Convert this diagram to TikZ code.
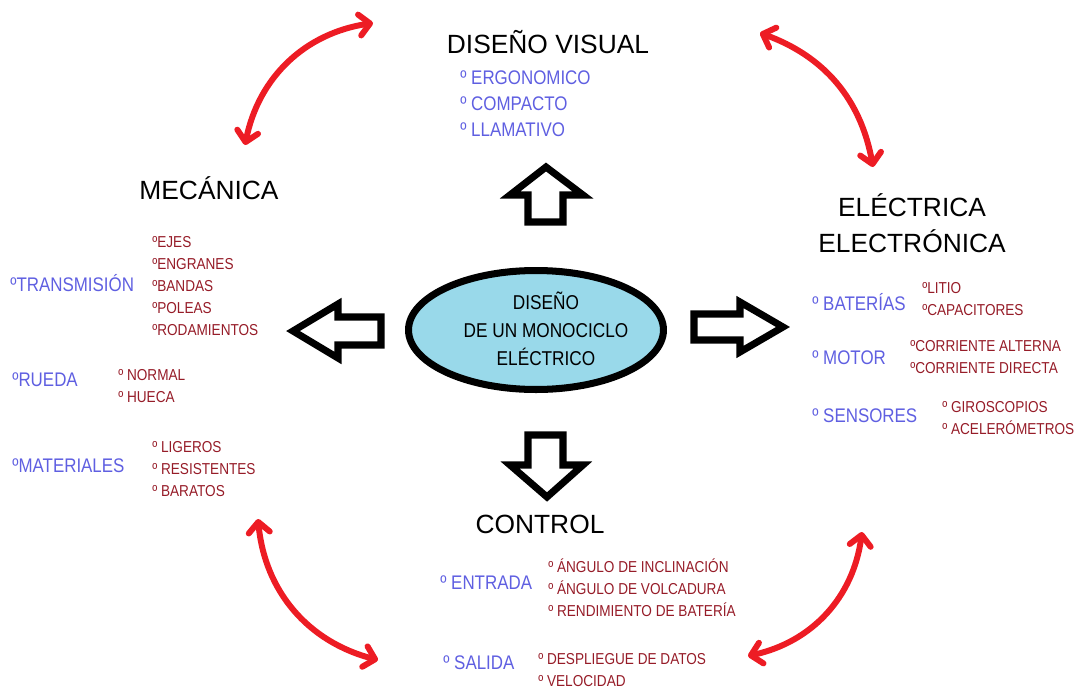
\documentclass[tikz,border=0pt]{standalone}
\usepackage{fontspec}
\setmainfont{Liberation Sans}
\newfontfamily\estrecha[FakeStretch=0.86]{Liberation Sans}
\usetikzlibrary{shapes.geometric,arrows.meta}
\definecolor{azul}{RGB}{95,95,225}
\definecolor{guinda}{RGB}{150,28,40}
\definecolor{rojo}{RGB}{237,28,36}
\definecolor{celeste}{RGB}{153,217,234}

\begin{document}
\begin{tikzpicture}[x=0.02cm,y=-0.02cm,
  titulo/.style={inner sep=0pt, align=center, font=\fontsize{15}{20.4}\selectfont},
  tema/.style={anchor=west, inner sep=0pt, align=left, text=azul, font=\estrecha\fontsize{11.2}{14.7}\selectfont},
  lista/.style={anchor=west, inner sep=0pt, align=left, text=guinda, font=\estrecha\fontsize{9}{12.6}\selectfont},
  bloque/.style={draw, line width=4pt, line join=miter, fill=white},
  doble/.style={draw=rojo, line width=3.4pt, line cap=round,
    arrows={Straight Barb[round,length=6pt,width=12pt]-Straight Barb[round,length=6pt,width=12pt]}}]
\useasboundingbox (0,0) rectangle (1080,690);

% centro
\node[draw, ellipse, line width=4pt, fill=celeste, minimum width=5.1cm, minimum height=2.38cm] (C0) at (536,330) {};
\node[align=center, inner sep=0pt, font=\estrecha\fontsize{11.4}{15.9}\selectfont] (C0txt) at (546,329)
  {DISEÑO\\DE UN MONOCICLO\\ELÉCTRICO};

% flechas de bloque
\draw[bloque] (293,331) -- (338,304) -- (338,317) -- (381,317) -- (381,345) -- (338,345) -- (338,358) -- cycle;
\draw[bloque] (783,327) -- (740,302) -- (740,314) -- (694,314) -- (694,340) -- (740,340) -- (740,352) -- cycle;
\draw[bloque] (546,167) -- (510,195) -- (528,195) -- (528,222) -- (563,222) -- (563,195) -- (583,195) -- cycle;
\draw[bloque] (547,497) -- (510,465) -- (528,465) -- (528,435) -- (563,435) -- (563,465) -- (583,465) -- cycle;

% diseno visual
\node[titulo] (DV) at (548,42) {DISEÑO VISUAL};
\node[tema] (DV1) at (460,104) {º ERGONOMICO\\º COMPACTO\\º LLAMATIVO};

% mecanica
\node[titulo] (MEC) at (209,188) {MECÁNICA};
\node[tema] (TRA) at (10,283) {ºTRANSMISIÓN};
\node[lista] (TRA1) at (152,286) {ºEJES\\ºENGRANES\\ºBANDAS\\ºPOLEAS\\ºRODAMIENTOS};
\node[tema] (RUE) at (12,380) {ºRUEDA};
\node[lista] (RUE1) at (118,386) {º NORMAL\\º HUECA};
\node[tema] (MAT) at (12,466) {ºMATERIALES};
\node[lista] (MAT1) at (152,469) {º LIGEROS\\º RESISTENTES\\º BARATOS};

% electrica electronica
\node[titulo] (ELE) at (912,223) {ELÉCTRICA\\ELECTRÓNICA};
\node[tema] (BAT) at (812,302) {º BATERÍAS};
\node[lista] (BAT1) at (922,299) {ºLITIO\\ºCAPACITORES};
\node[tema] (MOT) at (812,358) {º MOTOR};
\node[lista] (MOT1) at (910,357) {ºCORRIENTE ALTERNA\\ºCORRIENTE DIRECTA};
\node[tema] (SEN) at (812,416) {º SENSORES};
\node[lista] (SEN1) at (942,418) {º GIROSCOPIOS\\º ACELERÓMETROS};

% control
\node[titulo] (CTRL) at (540,524) {CONTROL};
\node[tema] (ENT) at (440,583) {º ENTRADA};
\node[lista] (ENT1) at (548,588) {º ÁNGULO DE INCLINACIÓN\\º ÁNGULO DE VOLCADURA\\º RENDIMIENTO DE BATERÍA};
\node[tema] (SAL) at (443,663) {º SALIDA};
\node[lista] (SAL1) at (538,670) {º DESPLIEGUE DE DATOS\\º VELOCIDAD};

% flechas rojas
\coordinate (r1a) at (245,145);
\coordinate (r1b) at (373,23);
\coordinate (r2a) at (760,33);
\coordinate (r2b) at (873,167);
\coordinate (r3a) at (258,519);
\coordinate (r3b) at (378,660);
\coordinate (r4a) at (748,656);
\coordinate (r4b) at (862,532);
\draw[doble] (r1a) to[bend left=35] (r1b);
\draw[doble] (r2a) to[bend left=30] (r2b);
\draw[doble] (r3a) to[bend right=35] (r3b);
\draw[doble] (r4a) to[bend right=35] (r4b);
\end{tikzpicture}
\end{document}
